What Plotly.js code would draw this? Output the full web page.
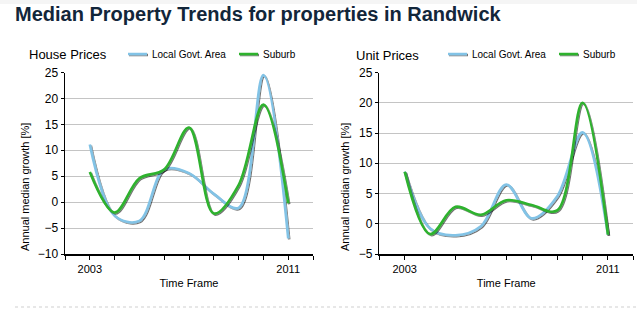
<!DOCTYPE html>
<html>
<head>
<meta charset="utf-8">
<script src="https://cdn.plot.ly/plotly-3.0.1.min.js"></script>
<style>
  html, body { margin: 0; padding: 0; background: #fff; }
  #chart { width: 637px; height: 321px; }
  .scatterlayer .js-line, .legendlines path { filter: url(#sh); }
  .legendlines path { stroke-dasharray: 0 11 19 200; }
</style>
</head>
<body>
<svg width="0" height="0" style="position:absolute">
  <defs>
    <filter id="sh" filterUnits="userSpaceOnUse" x="-2000" y="-2000" width="6000" height="6000">
      <feDropShadow dx="1" dy="1" stdDeviation="0.6" flood-color="#000" flood-opacity="0.55"/>
    </filter>
  </defs>
</svg>
<div id="chart"></div>
<script>
// ---- data ----
var years = [2003, 2004, 2005, 2006, 2007, 2008, 2009, 2010, 2011];
var houseLGA    = [11.1, -2.6, -3.6, 6.3, 5.6, 1.6, -1.1, 24.5, -7.0];
var houseSuburb = [5.8, -2.0, 4.6, 6.3, 14.4, -2.2, 3.3, 18.8, -0.2];
var unitLGA     = [8.6, -0.8, -1.9, -0.4, 6.5, 0.9, 4.5, 15.1, -1.8];
var unitSuburb  = [8.6, -1.7, 2.8, 1.5, 3.9, 3.1, 2.2, 20.0, -1.8];
var seriesNames = ['Local Govt. Area', 'Suburb'];
var tickYears = [2002, 2003, 2004, 2005, 2006, 2007, 2008, 2009, 2010, 2011, 2012];
var tickLabels = ['', '2003', '', '', '', '', '', '', '', '2011', ''];

var blue = '#82c3e6';
var green = '#2fb22f';
var FONT = 'Liberation Sans, Arial, sans-serif';

function line(x, y, name, color, xa, ya, lg) {
  return {
    type: 'scatter', mode: 'lines', x: x, y: y, name: name,
    xaxis: xa, yaxis: ya, legend: lg,
    line: { color: color, width: 2.6, shape: 'spline', smoothing: 1 },
    hoverinfo: 'skip'
  };
}

var data = [
  line(years, houseLGA, seriesNames[0], blue, 'x', 'y', 'legend'),
  line(years, houseSuburb, seriesNames[1], green, 'x', 'y', 'legend'),
  line(years, unitLGA, seriesNames[0], blue, 'x2', 'y2', 'legend2'),
  line(years, unitSuburb, seriesNames[1], green, 'x2', 'y2', 'legend2')
];

var W = 637, H = 321;
function px(x) { return x / W; }
function py(y) { return (H - y) / H; }

function xAxis(domain, anchor) {
  return {
    domain: domain, anchor: anchor, range: [2002, 2012],
    tickmode: 'array', tickvals: tickYears, ticktext: tickLabels,
    ticks: 'outside', ticklen: 4, tickwidth: 1, tickcolor: '#000',
    showline: true, linecolor: '#000', linewidth: 1.5,
    showgrid: false, zeroline: false,
    tickfont: { family: FONT, size: 11, color: '#000' },
    title: { text: 'Time Frame', font: { family: FONT, size: 11, color: '#000' }, standoff: 5 },
    fixedrange: true
  };
}
function yAxis(domain, anchor, range) {
  return {
    domain: domain, anchor: anchor, range: range,
    tick0: 0, dtick: 5,
    ticks: 'outside', ticklen: 3, tickwidth: 1, tickcolor: '#000',
    showline: true, linecolor: '#000', linewidth: 1.5,
    showgrid: true, gridcolor: '#c4c4c4', gridwidth: 1,
    zeroline: false,
    tickfont: { family: FONT, size: 12, color: '#000' },
    fixedrange: true
  };
}

var yDom = [py(254), py(72.5)];

function legendAt(x) {
  return {
    orientation: 'h', x: x, y: py(54), xanchor: 'left', yanchor: 'middle',
    xref: 'paper', yref: 'paper',
    font: { family: FONT, size: 10, color: '#000' },
    bgcolor: 'rgba(0,0,0,0)', borderwidth: 0,
    itemwidth: 30, entrywidth: 66, entrywidthmode: 'pixels',
    itemclick: false, itemdoubleclick: false
  };
}

var layout = {
  width: W, height: H,
  margin: { l: 0, r: 0, t: 0, b: 0, pad: 0, autoexpand: false },
  paper_bgcolor: '#fff', plot_bgcolor: '#fff',
  font: { family: FONT, color: '#000' },
  title: {
    text: 'Median Property Trends for properties in Randwick',
    x: px(15), xanchor: 'left', xref: 'paper',
    y: py(14), yanchor: 'middle', yref: 'paper',
    font: { family: FONT, size: 20, weight: 'bold', color: '#12263a' }
  },
  xaxis: xAxis([px(65), px(313)], 'y'),
  yaxis: yAxis(yDom, 'x', [-10, 25]),
  xaxis2: xAxis([px(379.3), px(633.3)], 'y2'),
  yaxis2: yAxis(yDom, 'x2', [-5, 25]),
  showlegend: true,
  legend: legendAt(px(112)),
  legend2: legendAt(px(432)),
  annotations: [
    { text: 'House Prices', x: px(27), y: py(54), xref: 'paper', yref: 'paper',
      xanchor: 'left', yanchor: 'middle', showarrow: false,
      font: { family: FONT, size: 13, color: '#000' } },
    { text: 'Unit Prices', x: px(354), y: py(55), xref: 'paper', yref: 'paper',
      xanchor: 'left', yanchor: 'middle', showarrow: false,
      font: { family: FONT, size: 13, color: '#000' } },
    { text: 'Annual median growth [%]', textangle: -90, x: px(25), y: py(187),
      xref: 'paper', yref: 'paper', xanchor: 'center', yanchor: 'middle', showarrow: false,
      font: { family: FONT, size: 11, color: '#000' } },
    { text: 'Annual median growth [%]', textangle: -90, x: px(345), y: py(187),
      xref: 'paper', yref: 'paper', xanchor: 'center', yanchor: 'middle', showarrow: false,
      font: { family: FONT, size: 11, color: '#000' } }
  ],
  shapes: [
    { type: 'line', xref: 'paper', yref: 'paper', x0: px(15), x1: 1, y0: py(307), y1: py(307),
      line: { color: '#cfcfcf', width: 1, dash: 'dot' } },
    { type: 'rect', xref: 'paper', yref: 'paper', x0: 0, x1: 1, y0: py(4), y1: 1,
      fillcolor: '#f5f5f5', line: { width: 0 }, layer: 'below' }
  ]
};

Plotly.newPlot('chart', data, layout, { staticPlot: true, displayModeBar: false });
</script>
</body>
</html>
